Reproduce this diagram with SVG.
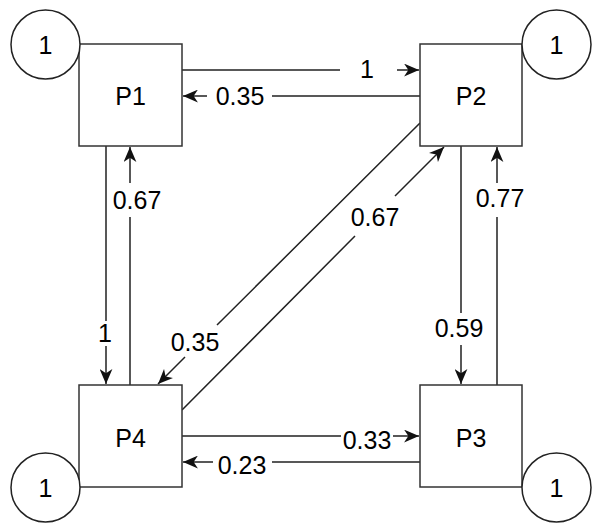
<svg xmlns="http://www.w3.org/2000/svg" width="599" height="530" viewBox="0 0 599 530">
<style>
.box{fill:#fff;stroke:#333;stroke-width:1.5}
.circ{fill:#fff;stroke:#222;stroke-width:1.5}
.edge{fill:none;stroke:#222;stroke-width:1.5}
text{font-family:"Liberation Sans",Arial,sans-serif;font-size:25px;fill:#000;text-anchor:middle}
</style>
<defs>
<marker id="arr" markerUnits="userSpaceOnUse" markerWidth="16" markerHeight="13" refX="14" refY="6" orient="auto" viewBox="0 0 15 12">
<path d="M0,0 L14,6 L0,12 L4,6 Z" fill="#111"/>
</marker>
</defs>
<g id="connectors">
<path class="edge" d="M182,70 H340 M397,70 H419" marker-end="url(#arr)"/>
<text x="367" y="78">1</text>
<path class="edge" d="M420,96 H272 M207,96 H183" marker-end="url(#arr)"/>
<text x="240" y="105">0.35</text>
<path class="edge" d="M106,146 V321 M106,346 V384" marker-end="url(#arr)"/>
<text x="105" y="342">1</text>
<path class="edge" d="M130,385 V217 M130,183 V147" marker-end="url(#arr)"/>
<text x="137" y="209">0.67</text>
<path class="edge" d="M461,146 V313 M461,345 V384" marker-end="url(#arr)"/>
<text x="459" y="337">0.59</text>
<path class="edge" d="M497,385 V217 M497,183 V147" marker-end="url(#arr)"/>
<text x="500" y="207">0.77</text>
<path class="edge" d="M182,436 H341 M393,436 H419" marker-end="url(#arr)"/>
<text x="367" y="449">0.33</text>
<path class="edge" d="M420,462 H272 M213,462 H183" marker-end="url(#arr)"/>
<text x="242" y="474">0.23</text>
<path class="edge" d="M420,123 L217,325 M185,357 L158,384" marker-end="url(#arr)"/>
<text x="195" y="351">0.35</text>
<path class="edge" d="M182,410 L355,236 M395,196 L444,147" marker-end="url(#arr)"/>
<text x="375" y="226">0.67</text>
</g>
<g id="P1">
<rect class="box" x="79" y="44" width="103" height="102"/>
<text x="130.5" y="105">P1</text>
</g>
<g id="P2">
<rect class="box" x="420" y="44" width="102" height="102"/>
<text x="471" y="105">P2</text>
</g>
<g id="P3">
<rect class="box" x="420" y="385" width="102" height="102"/>
<text x="471" y="447">P3</text>
</g>
<g id="P4">
<rect class="box" x="79" y="385" width="103" height="102"/>
<text x="130.5" y="447">P4</text>
</g>
<g id="C1">
<circle class="circ" cx="45.5" cy="44.5" r="34.5"/>
<text x="45.5" y="54">1</text>
</g>
<g id="C2">
<circle class="circ" cx="556.5" cy="44.5" r="34.5"/>
<text x="556.5" y="54">1</text>
</g>
<g id="C3">
<circle class="circ" cx="556.5" cy="487.5" r="34.5"/>
<text x="556.5" y="497">1</text>
</g>
<g id="C4">
<circle class="circ" cx="45.5" cy="487.5" r="34.5"/>
<text x="45.5" y="497">1</text>
</g>
</svg>
